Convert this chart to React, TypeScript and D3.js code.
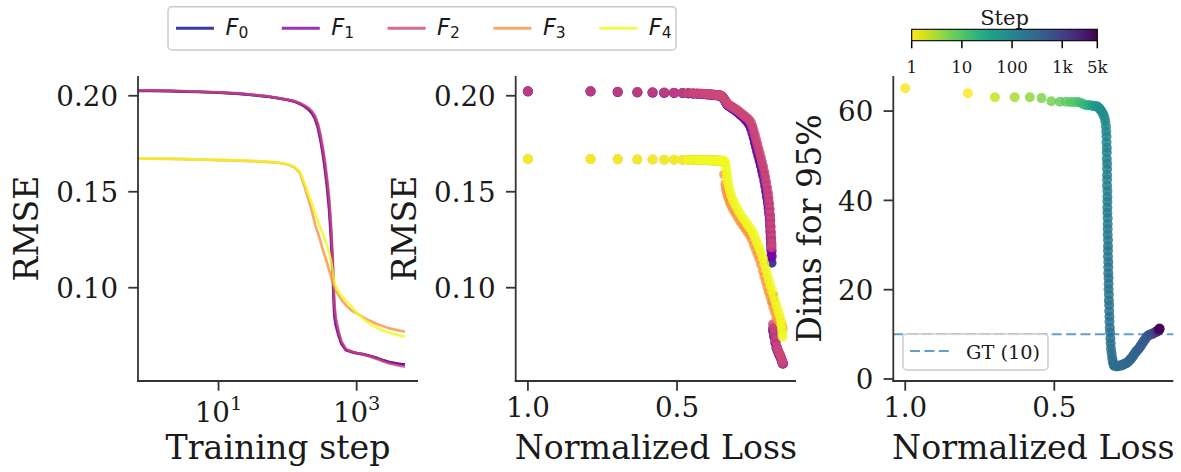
import React from 'react';
import * as d3 from 'd3';

// ---------- data ----------
const SERIES_IDX = ['0', '1', '2', '3', '4'];
const PLASMA_POS = [0, 0.25, 0.5, 0.75, 1.0];

// RMSE over training (per logged step)
const TRAIN_STEPS = [1, 2, 3, 5, 10, 20, 30, 50, 75, 100, 125, 150, 175, 200, 225, 250, 275, 300, 325, 350, 375, 400, 425, 450, 475, 500, 550, 600, 700, 850, 1000, 1250, 1500, 2000, 2500, 3000, 4000, 5000];
const TRAIN_F0 = [0.2026, 0.2024, 0.2022, 0.2020, 0.2016, 0.2010, 0.2004, 0.1996, 0.1986, 0.1978, 0.1970, 0.1958, 0.1945, 0.1930, 0.1912, 0.1884, 0.1840, 0.1778, 0.1705, 0.1625, 0.1532, 0.1430, 0.1290, 0.1110, 0.0880, 0.0815, 0.0755, 0.0712, 0.0676, 0.0666, 0.0660, 0.0654, 0.0647, 0.0633, 0.0620, 0.0611, 0.0603, 0.0599];
const TRAIN_F1 = [0.2027, 0.2025, 0.2023, 0.2021, 0.2017, 0.2011, 0.2005, 0.1997, 0.1987, 0.1979, 0.1971, 0.1959, 0.1946, 0.1929, 0.1908, 0.1878, 0.1830, 0.1765, 0.1690, 0.1605, 0.1510, 0.1400, 0.1250, 0.1060, 0.0850, 0.0800, 0.0748, 0.0708, 0.0674, 0.0664, 0.0658, 0.0652, 0.0645, 0.0632, 0.0620, 0.0612, 0.0604, 0.0600];
const TRAIN_F2 = [0.2028, 0.2026, 0.2024, 0.2022, 0.2018, 0.2012, 0.2006, 0.1998, 0.1988, 0.1980, 0.1973, 0.1962, 0.1950, 0.1937, 0.1920, 0.1895, 0.1855, 0.1795, 0.1725, 0.1650, 0.1560, 0.1465, 0.1330, 0.1160, 0.0920, 0.0840, 0.0770, 0.0722, 0.0680, 0.0668, 0.0660, 0.0652, 0.0644, 0.0628, 0.0614, 0.0605, 0.0595, 0.0588];
const TRAIN_F3 = [0.1672, 0.1671, 0.1670, 0.1668, 0.1665, 0.1662, 0.1660, 0.1656, 0.1650, 0.1642, 0.1628, 0.1600, 0.1530, 0.1460, 0.1400, 0.1330, 0.1285, 0.1240, 0.1195, 0.1160, 0.1125, 0.1090, 0.1060, 0.1030, 0.1005, 0.0985, 0.0960, 0.0938, 0.0908, 0.0880, 0.0866, 0.0845, 0.0830, 0.0810, 0.0798, 0.0788, 0.0778, 0.0771];
const TRAIN_F4 = [0.1673, 0.1672, 0.1671, 0.1669, 0.1666, 0.1663, 0.1661, 0.1657, 0.1651, 0.1643, 0.1630, 0.1605, 0.1545, 0.1490, 0.1440, 0.1390, 0.1345, 0.1310, 0.1280, 0.1250, 0.1215, 0.1180, 0.1140, 0.1085, 0.1030, 0.1005, 0.0980, 0.0960, 0.0930, 0.0900, 0.0868, 0.0838, 0.0815, 0.0790, 0.0775, 0.0765, 0.0753, 0.0745];

// RMSE against normalized loss: runs probed for F0–F2 ...
const LOSS_A = [1.000, 0.790, 0.699, 0.633, 0.582, 0.543, 0.510, 0.481, 0.462, 0.446, 0.432, 0.420, 0.410, 0.401, 0.393, 0.386, 0.380, 0.374, 0.369, 0.364, 0.360, 0.356,
  0.352, 0.347, 0.342, 0.337, 0.332, 0.327, 0.320, 0.313, 0.305, 0.297, 0.289, 0.281, 0.273, 0.265, 0.258, 0.252, 0.247, 0.243, 0.239, 0.235, 0.231, 0.227, 0.223, 0.219, 0.215, 0.211, 0.207, 0.204, 0.201, 0.198, 0.195, 0.193, 0.191, 0.189, 0.188, 0.187, 0.186, 0.185, 0.184, 0.183, 0.183,
  0.178, 0.177, 0.174, 0.170, 0.166, 0.162, 0.158, 0.154, 0.150, 0.147, 0.145];
const PT_F0 = [0.2022, 0.2022, 0.2019, 0.2017, 0.2016, 0.2015, 0.2014, 0.2013, 0.2012, 0.2011, 0.2010, 0.2009, 0.2008, 0.2007, 0.2006, 0.2005, 0.2004, 0.2003, 0.2003, 0.2002, 0.2002, 0.2001,
  0.1998, 0.1992, 0.1981, 0.1968, 0.1955, 0.1947, 0.1940, 0.1932, 0.1923, 0.1914, 0.1903, 0.1892, 0.1880, 0.1866, 0.1850, 0.1830, 0.1806, 0.1782, 0.1757, 0.1733, 0.1709, 0.1685, 0.1660, 0.1635, 0.1609, 0.1583, 0.1555, 0.1528, 0.1500, 0.1471, 0.1443, 0.1415, 0.1386, 0.1355, 0.1324, 0.1293, 0.1262, 0.1231, 0.1200, 0.1168, 0.1130,
  0.0785, 0.0770, 0.0745, 0.0712, 0.0685, 0.0668, 0.0654, 0.0642, 0.0626, 0.0612, 0.0604];
const PT_F1 = [0.2023, 0.2023, 0.2020, 0.2018, 0.2017, 0.2016, 0.2015, 0.2014, 0.2013, 0.2012, 0.2011, 0.2010, 0.2009, 0.2008, 0.2007, 0.2006, 0.2005, 0.2004, 0.2003, 0.2003, 0.2002, 0.2001,
  0.1999, 0.1993, 0.1982, 0.1970, 0.1957, 0.1949, 0.1942, 0.1935, 0.1926, 0.1917, 0.1906, 0.1895, 0.1884, 0.1871, 0.1856, 0.1838, 0.1815, 0.1791, 0.1767, 0.1743, 0.1720, 0.1696, 0.1672, 0.1648, 0.1622, 0.1597, 0.1570, 0.1543, 0.1515, 0.1487, 0.1459, 0.1431, 0.1402, 0.1372, 0.1342, 0.1311, 0.1280, 0.1250, 0.1220, 0.1190, 0.1160,
  0.0960, 0.0925, 0.0752, 0.0718, 0.0690, 0.0672, 0.0657, 0.0645, 0.0628, 0.0613, 0.0605];
const PT_F2 = [0.2024, 0.2024, 0.2021, 0.2019, 0.2018, 0.2017, 0.2016, 0.2015, 0.2014, 0.2013, 0.2012, 0.2011, 0.2010, 0.2009, 0.2008, 0.2007, 0.2006, 0.2005, 0.2004, 0.2003, 0.2002, 0.2001,
  0.2000, 0.1994, 0.1984, 0.1972, 0.1960, 0.1953, 0.1947, 0.1940, 0.1932, 0.1924, 0.1914, 0.1904, 0.1894, 0.1884, 0.1874, 0.1860, 0.1840, 0.1818, 0.1795, 0.1772, 0.1750, 0.1727, 0.1703, 0.1680, 0.1655, 0.1630, 0.1603, 0.1577, 0.1550, 0.1522, 0.1495, 0.1468, 0.1440, 0.1410, 0.1380, 0.1350, 0.1320, 0.1290, 0.1260, 0.1230, 0.1210,
  0.0810, 0.0790, 0.0760, 0.0725, 0.0693, 0.0675, 0.0660, 0.0648, 0.0630, 0.0615, 0.0606];
// ... and for F3–F4
const LOSS_B = [1.000, 0.790, 0.699, 0.633, 0.582, 0.543, 0.510, 0.481, 0.462, 0.446, 0.432, 0.420, 0.410, 0.401, 0.393, 0.386, 0.380, 0.374, 0.369, 0.364, 0.360, 0.356,
  0.352, 0.347, 0.342, 0.338, 0.336, 0.334, 0.332, 0.330, 0.327, 0.323, 0.318, 0.312, 0.305, 0.297, 0.289, 0.281, 0.273, 0.265, 0.257, 0.249, 0.242, 0.236, 0.230, 0.224, 0.218, 0.212, 0.207, 0.202, 0.197, 0.192, 0.187, 0.182, 0.177, 0.172, 0.167, 0.162, 0.157, 0.153, 0.150, 0.148, 0.147, 0.146];
const PT_F3 = [0.1670, 0.1670, 0.1669, 0.1668, 0.1668, 0.1667, 0.1667, 0.1666, 0.1666, 0.1665, 0.1665, 0.1665, 0.1664, 0.1664, 0.1664, 0.1663, 0.1663, 0.1663, 0.1663, 0.1662, 0.1662, 0.1662,
  0.1661, 0.1655, 0.1590, 0.1540, 0.1520, 0.1505, 0.1492, 0.1480, 0.1465, 0.1447, 0.1429, 0.1409, 0.1390, 0.1368, 0.1348, 0.1330, 0.1312, 0.1294, 0.1276, 0.1251, 0.1224, 0.1200, 0.1176, 0.1151, 0.1121, 0.1087, 0.1059, 0.1031, 0.1003, 0.0978, 0.0952, 0.0926, 0.0900, 0.0875, 0.0850, 0.0835, 0.0826, 0.0818, 0.0810, 0.0800, 0.0792, 0.0785];
const PT_F4 = [0.1670, 0.1670, 0.1669, 0.1668, 0.1668, 0.1667, 0.1667, 0.1666, 0.1666, 0.1665, 0.1665, 0.1665, 0.1664, 0.1664, 0.1664, 0.1663, 0.1663, 0.1663, 0.1663, 0.1662, 0.1662, 0.1662,
  0.1662, 0.1661, 0.1660, 0.1650, 0.1630, 0.1605, 0.1580, 0.1555, 0.1530, 0.1505, 0.1480, 0.1455, 0.1432, 0.1410, 0.1388, 0.1368, 0.1350, 0.1332, 0.1314, 0.1296, 0.1275, 0.1252, 0.1228, 0.1204, 0.1180, 0.1152, 0.1124, 0.1096, 0.1068, 0.1040, 0.1012, 0.0988, 0.0962, 0.0935, 0.0910, 0.0885, 0.0860, 0.0835, 0.0810, 0.0785, 0.0760, 0.0745];

// dimensions needed for 95% variance, against normalized loss, coloured by step
const DIM_STEPS = [0, 1, 2, 3, 4, 5, 6, 7, 8, 9, 10, 12, 14, 16, 18, 21, 24, 28, 33, 38, 44, 50, 57, 64,
  70, 74, 78, 82, 86, 90, 94, 97, 100, 103, 106, 109, 112, 115, 118, 121, 124, 127, 130, 133, 136, 139, 142, 145, 148, 151, 154, 157, 160, 163, 166, 169, 172, 175, 178, 181, 184, 187, 190, 193, 196, 199, 202, 205, 208, 211, 214, 217, 220, 223, 226,
  230, 234, 238, 242, 247, 252, 257, 262, 268, 274, 280, 287, 294, 301, 309, 317, 326, 335, 345, 355, 366, 377, 389, 401, 414, 428, 442, 457, 473, 490, 510, 540, 580, 640, 720, 830, 980, 1200, 1500, 1900, 2500, 3300, 4200, 5000];
const DIM_LOSS = [1.000, 0.790, 0.699, 0.633, 0.582, 0.543, 0.510, 0.481, 0.462, 0.446, 0.432, 0.420, 0.410, 0.401, 0.393, 0.386, 0.380, 0.374, 0.369, 0.364, 0.360, 0.356, 0.352, 0.348,
  0.344, 0.340, 0.336, 0.332, 0.329, 0.327, 0.326, 0.325, 0.325, 0.324, 0.324, 0.324, 0.323, 0.323, 0.323, 0.323, 0.323, 0.322, 0.322, 0.322, 0.322, 0.322, 0.321, 0.321, 0.321, 0.321, 0.320, 0.320, 0.320, 0.320, 0.319, 0.319, 0.319, 0.318, 0.318, 0.318, 0.317, 0.317, 0.316, 0.316, 0.315, 0.315, 0.314, 0.313, 0.312, 0.311, 0.310, 0.308, 0.306, 0.304, 0.302,
  0.300, 0.296, 0.291, 0.287, 0.284, 0.279, 0.276, 0.271, 0.268, 0.263, 0.260, 0.255, 0.251, 0.248, 0.243, 0.240, 0.235, 0.232, 0.227, 0.224, 0.219, 0.216, 0.211, 0.208, 0.203, 0.200, 0.195, 0.192, 0.187, 0.184, 0.179, 0.176, 0.171, 0.168, 0.164, 0.160, 0.157, 0.155, 0.152, 0.151, 0.149, 0.148, 0.148, 0.147];
const DIMS = [65.1, 64.0, 63.1, 63.1, 63.1, 62.9, 62.2, 62.1, 62.1, 62.0, 62.0, 62.0, 61.8, 61.5, 61.3, 61.3, 61.3, 61.2, 61.2, 61.1, 61.1, 61.0, 60.8, 60.5,
  60.2, 59.8, 59.3, 58.6, 57.7, 56.6, 55.4, 54.3, 53.0, 51.8, 50.7, 49.3, 48.2, 47.0, 45.7, 44.6, 43.3, 42.1, 40.8, 39.7, 38.4, 37.2, 36.0, 34.7, 33.6, 32.3, 31.1, 29.8, 28.7, 27.4, 26.2, 25.0, 23.7, 22.6, 21.3, 20.1, 18.9, 17.6, 16.5, 15.2, 14.0, 12.8, 11.5, 10.4, 9.1, 8.0, 6.8, 5.8, 4.8, 4.0, 3.4,
  3.0, 2.9, 2.8, 2.9, 2.9, 3.0, 3.1, 3.1, 3.3, 3.4, 3.5, 3.7, 3.9, 4.2, 4.5, 4.8, 5.2, 5.6, 6.0, 6.3, 6.6, 6.9, 7.3, 7.7, 8.1, 8.5, 8.9, 9.3, 9.6, 9.8, 9.9, 10.0, 10.1, 10.2, 10.4, 10.5, 10.6, 10.7, 10.8, 10.9, 11.0, 11.1, 11.2, 11.3];
const GT_DIMS = 10;

// ticks
const RMSE_TICKS = [0.10, 0.15, 0.20];
const STEP_TICKS = [10, 1000];
const LOSS_TICKS = [1.0, 0.5];
const DIMS_TICKS = [0, 20, 40, 60];
const CBAR_TICKS = [1, 10, 100, 1000, 5000];
const CBAR_LABELS = ['1', '10', '100', '1k', '5k'];

// ---------- layout & style ----------
const W = 1181;
const H = 472;
const SERIF = '"DejaVu Serif", serif';
const SANS = '"DejaVu Sans", sans-serif';
const INK = '#1a1a1a';
const SPINE = '#333333';
const TICK_FS = 27.7;
const LABEL_FS = 33.2;
const TICK_LEN = 9.7;

const P1 = { x0: 138, x1: 418, y0: 76, y1: 381 };
const P2 = { x0: 515.7, x1: 796, y0: 76, y1: 381 };
const P3 = { x0: 893.3, x1: 1173.3, y0: 76, y1: 381 };

const colors = PLASMA_POS.map((t) => d3.interpolatePlasma(t));
const stepMax = 5000;
const stepColor = (s: number) => {
  const t = Math.max(0, Math.min(1, Math.log10(Math.max(s, 1)) / Math.log10(stepMax)));
  return d3.interpolateViridis(1 - t);
};

const yRmse = (p: any) => d3.scaleLinear().domain([0.0514, 0.2103]).range([p.y1, p.y0]);
const x1 = d3.scaleLog().domain([Math.pow(10, -0.166), Math.pow(10, 3.888)]).range([P1.x0, P1.x1]);
const y1 = yRmse(P1);
const x2 = d3.scaleLinear().domain([1.041, 0.101]).range([P2.x0, P2.x1]);
const y2 = yRmse(P2);
const x3 = d3.scaleLinear().domain([1.040, 0.101]).range([P3.x0, P3.x1]);
const y3 = d3.scaleLinear().domain([-0.45, 67.85]).range([P3.y1, P3.y0]);
const cbarX = d3.scaleLog().domain([1, stepMax]).range([911.7, 1097.3]);

const TRAIN = [TRAIN_F0, TRAIN_F1, TRAIN_F2, TRAIN_F3, TRAIN_F4];
const POINTS = [
  { loss: LOSS_A, rmse: PT_F0 },
  { loss: LOSS_A, rmse: PT_F1 },
  { loss: LOSS_A, rmse: PT_F2 },
  { loss: LOSS_B, rmse: PT_F3 },
  { loss: LOSS_B, rmse: PT_F4 },
];

function Frame({ p, yTicks, xTicks, xLabel, yLabel, yLabelGap }: any) {
  return (
    <g>
      <line x1={p.x0} y1={p.y0} x2={p.x0} y2={p.y1 + 0.9} stroke={SPINE} strokeWidth={1.8} />
      <line x1={p.x0 - 0.9} y1={p.y1} x2={p.x1} y2={p.y1} stroke={SPINE} strokeWidth={1.8} />
      {yTicks.map((t: any, i: number) => (
        <g key={'y' + i}>
          <line x1={p.x0 - TICK_LEN} x2={p.x0} y1={t.y} y2={t.y} stroke={SPINE} strokeWidth={1.8} />
          <text x={p.x0 - 20} y={t.y + 10.3} textAnchor="end" fontSize={TICK_FS} fontFamily={SERIF} fill={INK}>
            {t.label}
          </text>
        </g>
      ))}
      {xTicks.map((t: any, i: number) => (
        <g key={'x' + i}>
          <line x1={t.x} x2={t.x} y1={p.y1} y2={p.y1 + TICK_LEN} stroke={SPINE} strokeWidth={1.8} />
          {t.node}
        </g>
      ))}
      <text x={(p.x0 + p.x1) / 2} y={459} textAnchor="middle" fontSize={LABEL_FS} fontFamily={SERIF} fill={INK}>
        {xLabel}
      </text>
      <text
        transform={`translate(${p.x0 - yLabelGap},${(p.y0 + p.y1) / 2}) rotate(-90)`}
        textAnchor="middle"
        fontSize={LABEL_FS}
        fontFamily={SERIF}
        fill={INK}
      >
        {yLabel}
      </text>
    </g>
  );
}

function lossTicks(xs: any) {
  return LOSS_TICKS.map((v) => ({
    x: xs(v),
    node: (
      <text x={xs(v)} y={417} textAnchor="middle" fontSize={TICK_FS} fontFamily={SERIF} fill={INK}>
        {v.toFixed(1)}
      </text>
    ),
  }));
}

export default function App() {
  const line = d3.line<[number, number]>().x((d) => d[0]).y((d) => d[1]);

  // training curves: the first logged value also spans the clipped left margin
  const curves = TRAIN.map((vals) => {
    const pts: [number, number][] = [[P1.x0, y1(vals[0])]];
    vals.forEach((v, i) => pts.push([x1(TRAIN_STEPS[i]), y1(v)]));
    return line(pts) as string;
  });

  const gradStops = d3.range(0, 21).map((i) => ({ off: i / 20, c: d3.interpolateViridis(1 - i / 20) }));

  return (
    <svg
      width={W}
      height={H}
      viewBox={`0 0 ${W} ${H}`}
      style={{ position: 'absolute', left: 0, top: 0, background: '#ffffff' }}
      xmlns="http://www.w3.org/2000/svg"
    >
      <defs>
        <linearGradient id="stepGrad" x1="0" x2="1" y1="0" y2="0">
          {gradStops.map((s, i) => (
            <stop key={i} offset={s.off} stopColor={s.c} />
          ))}
        </linearGradient>
        <clipPath id="clip1">
          <rect x={P1.x0} y={P1.y0 - 10} width={P1.x1 - P1.x0} height={P1.y1 - P1.y0 + 10} />
        </clipPath>
      </defs>
      <rect x={0} y={0} width={W} height={H} fill="#ffffff" />

      {/* panel 1: RMSE vs training step */}
      <g clipPath="url(#clip1)">
        {curves.map((d, i) => (
          <path key={i} d={d} fill="none" stroke={colors[i]} strokeOpacity={0.8} strokeWidth={2.7} strokeLinejoin="round" />
        ))}
      </g>
      <Frame
        p={P1}
        yTicks={RMSE_TICKS.map((v) => ({ y: y1(v), label: v.toFixed(2) }))}
        xTicks={STEP_TICKS.map((v) => ({
          x: x1(v),
          node: (
            <text x={x1(v)} y={421.7} textAnchor="middle" fontSize={TICK_FS} fontFamily={SERIF} fill={INK}>
              10
              <tspan dy={-11.7} fontSize={19.4}>
                {String(Math.round(Math.log10(v)))}
              </tspan>
            </text>
          ),
        }))}
        xLabel="Training step"
        yLabel="RMSE"
        yLabelGap={99.7}
      />

      {/* panel 2: RMSE vs normalized loss */}
      <g>
        {POINTS.map((s, i) => (
          <g key={i}>
            {s.rmse.map((v, j) => (
              <circle key={j} cx={x2(s.loss[j])} cy={y2(v)} r={5} fill={colors[i]} fillOpacity={0.8} />
            ))}
          </g>
        ))}
      </g>
      <Frame
        p={P2}
        yTicks={RMSE_TICKS.map((v) => ({ y: y2(v), label: v.toFixed(2) }))}
        xTicks={lossTicks(x2)}
        xLabel="Normalized Loss"
        yLabel="RMSE"
        yLabelGap={99.7}
      />

      {/* panel 3: dims for 95% vs normalized loss */}
      <line
        x1={P3.x0}
        x2={P3.x1}
        y1={y3(GT_DIMS)}
        y2={y3(GT_DIMS)}
        stroke="#1f77b4"
        strokeOpacity={0.7}
        strokeWidth={2}
        strokeDasharray="10 4.4"
      />
      <g>
        {DIMS.map((v, j) => (
          <circle key={j} cx={x3(DIM_LOSS[j])} cy={y3(v)} r={5} fill={stepColor(DIM_STEPS[j])} fillOpacity={0.85} />
        ))}
      </g>
      <Frame
        p={P3}
        yTicks={DIMS_TICKS.map((v) => ({ y: y3(v), label: String(v) }))}
        xTicks={lossTicks(x3)}
        xLabel="Normalized Loss"
        yLabel="Dims for 95%"
        yLabelGap={72.3}
      />
      {/* GT legend */}
      <g>
        <rect x={903} y={334} width={145} height={36} rx={4} fill="#ffffff" fillOpacity={0.8} stroke="#cccccc" strokeWidth={1.5} />
        <line x1={910} x2={950} y1={351} y2={351} stroke="#1f77b4" strokeOpacity={0.7} strokeWidth={2} strokeDasharray="10 4.4" />
        <text x={966} y={358.5} fontSize={19.3} fontFamily={SERIF} fill={INK}>
          GT ({GT_DIMS})
        </text>
      </g>

      {/* step colorbar */}
      <g>
        <text x={1004.5} y={25} textAnchor="middle" fontSize={21} fontFamily={SERIF} fill={INK}>
          Step
        </text>
        <rect x={911.7} y={29.3} width={1097.3 - 911.7} height={11.4} fill="url(#stepGrad)" stroke="#000000" strokeWidth={1.1} />
        {CBAR_TICKS.map((t, i) => (
          <g key={i}>
            <line x1={cbarX(t)} x2={cbarX(t)} y1={40.7} y2={48.3} stroke="#000000" strokeWidth={1.5} />
            <text x={cbarX(t)} y={73.3} textAnchor="middle" fontSize={16.6} fontFamily={SERIF} fill={INK}>
              {CBAR_LABELS[i]}
            </text>
          </g>
        ))}
      </g>

      {/* series legend */}
      <g>
        <rect x={168} y={6.7} width={508} height={43.3} rx={4} fill="#ffffff" stroke="#cccccc" strokeWidth={1.5} />
        {SERIES_IDX.map((s, i) => {
          const lx = 176 + i * 105.8;
          return (
            <g key={i}>
              <line x1={lx} x2={lx + 38} y1={28.3} y2={28.3} stroke={colors[i]} strokeOpacity={0.8} strokeWidth={3} />
              <text x={lx + 49.5} y={35} fontSize={22.5} fontFamily={SANS} fontStyle="italic" fill={INK}>
                F
                <tspan dy={3.3} fontSize={15.5} fontStyle="normal">
                  {s}
                </tspan>
              </text>
            </g>
          );
        })}
      </g>
    </svg>
  );
}
